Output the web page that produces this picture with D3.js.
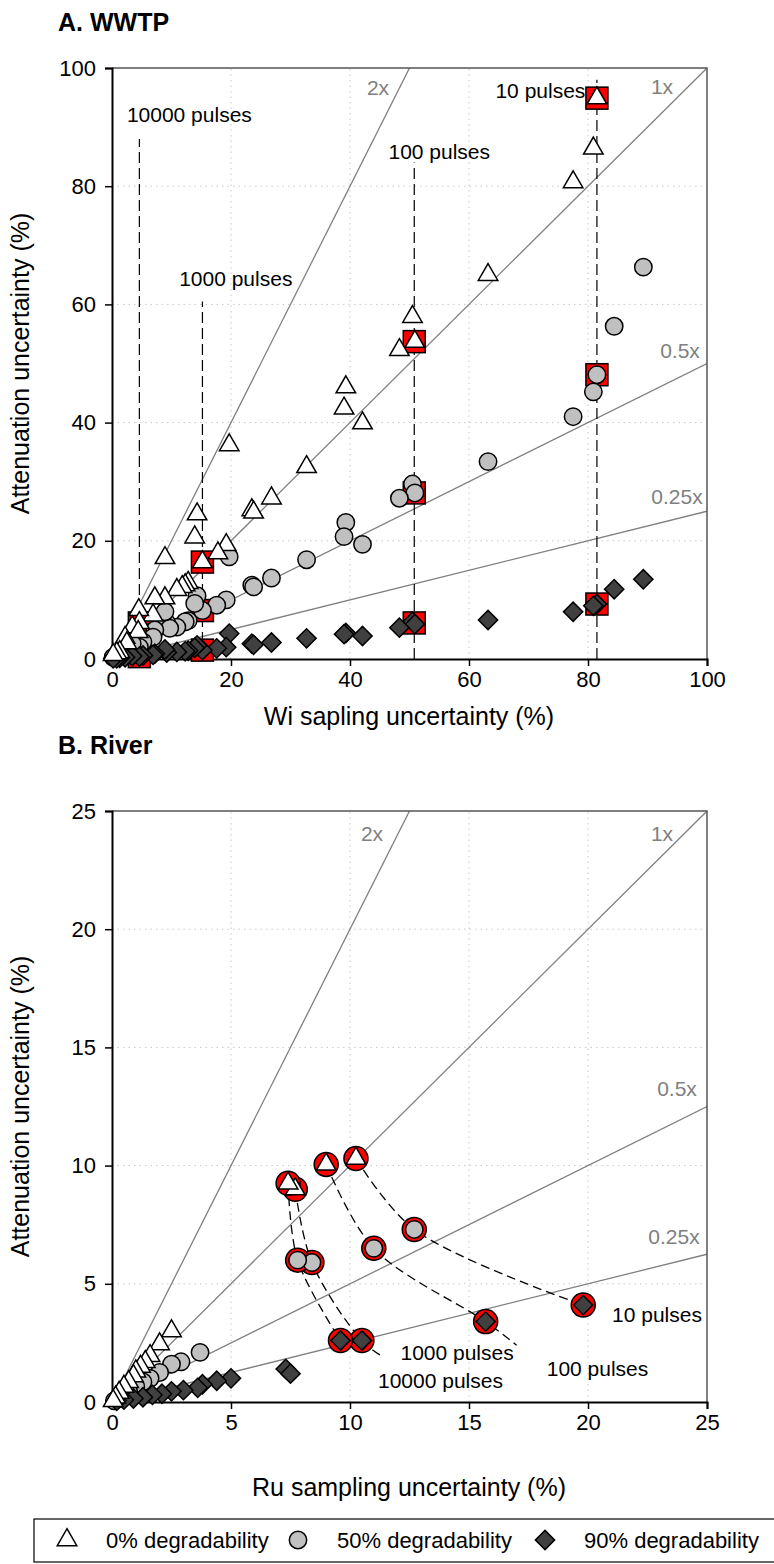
<!DOCTYPE html>
<html>
<head>
<meta charset="utf-8">
<script src="https://cdn.jsdelivr.net/npm/d3@7"></script>
<style>
  body { margin: 0; background: #fff; }
  svg { font-family: "Liberation Sans", Arial, sans-serif; }
</style>
</head>
<body>
<svg id="chart" width="774" height="1564"></svg>
<script>
// ---- data: [sampling uncertainty, attenuation uncertainty] ----
// panel A (WWTP)
const triA = [[81.5,94.9],[80.9,86.4],[77.5,80.7],[63.2,65.0],[50.5,57.9],[50.9,53.7],[48.3,52.3],[39.3,46.0],[39.0,42.4],[42.1,39.9],[32.7,32.5],[26.8,27.2],[23.5,25.2],[23.8,24.8],[19.7,36.2],[19.2,19.3],[17.8,17.9],[15.2,16.4],[14.3,24.5],[13.9,20.6],[12.8,12.9],[12.3,12.5],[11.8,12.2],[10.9,11.7],[8.9,17.1],[8.9,10.3],[7.2,10.3],[6.9,7.4],[4.5,8.3],[4.6,6.1],[3.4,5.4],[4.4,4.6],[2.2,3.6],[2.5,2.7],[1.3,1.2],[0.8,1.0],[0.2,0.7]];
const cirA = [[89.3,66.3],[84.4,56.3],[81.5,48.1],[80.9,45.2],[77.5,41.0],[63.2,33.4],[50.5,29.6],[50.9,28.1],[48.3,27.2],[39.3,23.1],[39.0,20.7],[42.1,19.4],[32.7,16.8],[26.8,13.7],[23.5,12.5],[23.8,12.2],[19.7,17.3],[19.2,10.0],[17.6,9.1],[15.2,8.2],[14.3,10.7],[13.9,9.4],[12.8,6.5],[12.3,6.3],[10.9,5.4],[9.2,6.1],[9.7,5.2],[8.9,8.0],[7.2,4.9],[6.9,3.7],[5.2,2.9],[4.6,2.0],[3.4,2.6],[2.2,1.7],[1.3,0.6],[0.8,0.5],[0.2,0.3]];
const diaA = [[89.3,13.5],[84.4,11.8],[81.5,9.3],[80.9,9.0],[77.5,8.0],[63.2,6.6],[50.5,6.3],[50.9,5.9],[48.3,5.3],[39.3,4.4],[39.0,4.2],[42.1,3.9],[32.7,3.5],[26.8,2.8],[23.5,2.6],[23.8,2.4],[19.7,4.3],[19.2,2.0],[17.6,1.8],[15.2,1.5],[14.3,2.3],[13.9,1.9],[12.8,1.4],[12.3,1.3],[10.9,1.2],[9.2,1.1],[8.9,1.6],[7.2,0.9],[6.9,0.7],[5.2,0.6],[4.6,0.4],[3.4,0.5],[2.2,0.3],[1.3,0.2],[0.8,0.1],[0.2,0.1]];
const redA = [[81.5,94.9],[81.5,48.1],[81.5,9.3],[50.8,53.7],[50.8,28.1],[50.8,6.1],[15.2,16.4],[15.2,8.2],[15.2,1.5],[4.6,6.1],[4.6,2.0],[4.6,0.4]];
const pulseX = [81.5, 50.8, 15.2, 4.6];
const pulseTop = [98, 84, 60.5, 88];
const pulseLabels = ["10 pulses", "100 pulses", "1000 pulses", "10000 pulses"];
const pulseLabelPos = [[72.0, 96.2], [55.0, 85.8], [20.8, 64.4], [13.0, 92.1]];

// panel B (River)
const triB = [[10.25,10.3],[9.0,10.05],[7.7,9.0],[7.4,9.25],[2.5,3.0],[2.0,2.45],[1.6,1.95],[1.4,1.7],[1.2,1.5],[1.0,1.3],[0.9,1.1],[0.7,0.85],[0.5,0.65],[0.3,0.4],[0.15,0.2],[0.05,0.05]];
const cirB = [[12.7,7.3],[11.0,6.5],[8.4,5.9],[7.8,6.0],[3.7,2.1],[2.9,1.7],[2.5,1.6],[2.0,1.25],[1.6,1.0],[1.3,0.85],[1.0,0.65],[0.7,0.45],[0.4,0.25],[0.1,0.05]];
const diaB = [[19.8,4.1],[15.7,3.4],[10.5,2.6],[9.6,2.6],[7.3,1.4],[7.5,1.2],[5.0,1.0],[4.4,0.9],[3.8,0.75],[3.6,0.6],[3.0,0.5],[2.5,0.45],[2.1,0.35],[1.7,0.3],[1.3,0.2],[0.9,0.15],[0.5,0.1],[0.2,0.05]];
const redB = [[10.25,10.3],[9.0,10.05],[7.7,9.0],[7.4,9.25],[12.7,7.3],[11.0,6.5],[8.4,5.9],[7.8,6.0],[19.8,4.1],[15.7,3.4],[10.5,2.6],[9.6,2.6]];
const curvesB = [
  [[10.25,10.3],[12.7,7.3],[19.8,4.1]],
  [[9.0,10.05],[11.0,6.5],[15.7,3.4],[17.0,2.4]],
  [[7.7,9.0],[8.4,5.9],[10.5,2.6],[11.4,1.9]],
  [[7.4,9.25],[7.8,6.0],[9.6,2.6]]
];
const curveLabels = ["10 pulses", "100 pulses", "1000 pulses", "10000 pulses"];
const curveLabelPos = [[22.9, 3.7], [20.4, 1.4], [14.5, 2.1], [13.8, 0.9]];

const ticksA = [0, 20, 40, 60, 80, 100];
const ticksB = [0, 5, 10, 15, 20, 25];
const ratios = [2, 1, 0.5, 0.25];
const ratioLabels = ["2x", "1x", "0.5x", "0.25x"];
const legendItems = ["0% degradability", "50% degradability", "90% degradability"];

const svg = d3.select("#chart");
const tickFont = 22, titleFont = 25, noteFont = 21;

function panel(opt) {
  const x = d3.scaleLinear().domain([0, opt.max]).range([112, 707]);
  const y = d3.scaleLinear().domain([0, opt.max]).range([opt.bottom, opt.top]);
  const g = svg.append("g");

  // grid
  opt.ticks.slice(1, -1).forEach(t => {
    g.append("line").attr("x1", x(t)).attr("x2", x(t)).attr("y1", y(0)).attr("y2", y(opt.max))
      .attr("stroke", "#c8c8c8").attr("stroke-dasharray", "1.5,4");
    g.append("line").attr("x1", x(0)).attr("x2", x(opt.max)).attr("y1", y(t)).attr("y2", y(t))
      .attr("stroke", "#c8c8c8").attr("stroke-dasharray", "1.5,4");
  });

  // ratio lines
  const clip = "clip" + opt.id;
  svg.append("clipPath").attr("id", clip).append("rect")
    .attr("x", x(0)).attr("y", y(opt.max)).attr("width", x(opt.max) - x(0)).attr("height", y(0) - y(opt.max));
  const lines = g.append("g").attr("clip-path", `url(#${clip})`);
  ratios.forEach(r => {
    lines.append("line").attr("x1", x(0)).attr("y1", y(0))
      .attr("x2", x(opt.max)).attr("y2", y(opt.max * r))
      .attr("stroke", "#808080").attr("stroke-width", 1.3);
  });
  opt.ratioPos.forEach((p, i) => {
    g.append("text").attr("x", p[0]).attr("y", p[1]).attr("dy", "0.35em")
      .attr("text-anchor", "middle").attr("fill", "#808080").attr("font-size", noteFont)
      .text(ratioLabels[i]);
  });

  // frame
  g.append("path")
    .attr("d", `M${x(0)},${y(opt.max)}H${x(opt.max)}V${y(0)}`)
    .attr("fill", "none").attr("stroke", "#555").attr("stroke-width", 1.5);

  // axes
  const ax = g.append("g").attr("transform", `translate(0,${y(0)})`)
    .call(d3.axisBottom(x).tickValues(opt.ticks).tickSize(7).tickPadding(5));
  const ay = g.append("g").attr("transform", `translate(${x(0)},0)`)
    .call(d3.axisLeft(y).tickValues(opt.ticks).tickSize(7).tickPadding(9));
  [ax, ay].forEach(a => {
    a.select(".domain").attr("stroke-width", 2);
    a.selectAll(".tick line").attr("stroke-width", 1.5);
    a.selectAll("text").attr("font-size", tickFont).attr("font-family", "Liberation Sans, Arial");
  });

  g.append("text").attr("x", 58).attr("y", opt.titleY)
    .attr("font-weight", "bold").attr("font-size", titleFont).text(opt.title);
  g.append("text").attr("x", 409).attr("y", opt.xTitleY).attr("text-anchor", "middle")
    .attr("font-size", titleFont).text(opt.xTitle);
  g.append("text").attr("transform", `translate(29,${(y(0) + y(opt.max)) / 2}) rotate(-90)`)
    .attr("text-anchor", "middle").attr("font-size", titleFont).text("Attenuation uncertainty (%)");

  return { x, y, g };
}

function markers(g, x, y, data, kind) {
  const s = g.append("g");
  data.forEach(d => {
    const px = x(d[0]), py = y(d[1]);
    if (kind === "tri") {
      s.append("path").attr("d", d3.symbol(d3.symbolTriangle, 165)())
        .attr("transform", `translate(${px},${py})`)
        .attr("fill", "#fff").attr("stroke", "#000").attr("stroke-width", 1.5);
    } else if (kind === "cir") {
      s.append("circle").attr("cx", px).attr("cy", py).attr("r", 8.7)
        .attr("fill", "#c0c0c0").attr("stroke", "#000").attr("stroke-width", 1.5);
    } else if (kind === "dia") {
      s.append("rect").attr("x", -6.8).attr("y", -6.8).attr("width", 13.6).attr("height", 13.6)
        .attr("transform", `translate(${px},${py}) rotate(45)`)
        .attr("fill", "#404040").attr("stroke", "#000").attr("stroke-width", 1.5);
    } else if (kind === "redsq") {
      s.append("rect").attr("x", px - 11).attr("y", py - 11).attr("width", 22).attr("height", 22)
        .attr("fill", "#ff0000").attr("stroke", "#000").attr("stroke-width", 1.5);
    } else if (kind === "redci") {
      s.append("circle").attr("cx", px).attr("cy", py).attr("r", 12)
        .attr("fill", "#ff0000").attr("stroke", "#000").attr("stroke-width", 1.5);
    }
  });
}

// ---- panel A ----
const A = panel({ id: "A", max: 100, top: 68, bottom: 659, ticks: ticksA, title: "A. WWTP",
  titleY: 31, xTitle: "Wi sapling uncertainty (%)", xTitleY: 725,
  ratioPos: [[378, 88], [662, 87], [680, 351], [677, 497]] });

pulseX.forEach((px, i) => {
  A.g.append("line").attr("x1", A.x(px)).attr("x2", A.x(px)).attr("y1", A.y(0)).attr("y2", A.y(pulseTop[i]))
    .attr("stroke", "#000").attr("stroke-width", 1.2).attr("stroke-dasharray", "11,5");
  A.g.append("text").attr("x", A.x(pulseLabelPos[i][0])).attr("y", A.y(pulseLabelPos[i][1]))
    .attr("dy", "0.35em").attr("text-anchor", "middle").attr("font-size", noteFont).text(pulseLabels[i]);
});
markers(A.g, A.x, A.y, redA, "redsq");
markers(A.g, A.x, A.y, cirA, "cir");
markers(A.g, A.x, A.y, diaA, "dia");
markers(A.g, A.x, A.y, triA, "tri");

// ---- panel B ----
const B = panel({ id: "B", max: 25, top: 811, bottom: 1402, ticks: ticksB, title: "B. River",
  titleY: 754, xTitle: "Ru sampling uncertainty (%)", xTitleY: 1496,
  ratioPos: [[372, 834], [662, 834], [677, 1089], [674, 1237]] });

const lineB = d3.line().x(d => B.x(d[0])).y(d => B.y(d[1])).curve(d3.curveCatmullRom);
curvesB.forEach(c => {
  B.g.append("path").attr("d", lineB(c)).attr("fill", "none")
    .attr("stroke", "#000").attr("stroke-width", 1.3).attr("stroke-dasharray", "9,5");
});
markers(B.g, B.x, B.y, redB, "redci");
markers(B.g, B.x, B.y, cirB, "cir");
markers(B.g, B.x, B.y, diaB, "dia");
markers(B.g, B.x, B.y, triB, "tri");
curveLabels.forEach((t, i) => {
  B.g.append("text").attr("x", B.x(curveLabelPos[i][0])).attr("y", B.y(curveLabelPos[i][1]))
    .attr("dy", "0.35em").attr("text-anchor", "middle").attr("font-size", noteFont).text(t);
});

// ---- legend ----
const lg = svg.append("g");
lg.append("rect").attr("x", 34).attr("y", 1519).attr("width", 780).attr("height", 43)
  .attr("fill", "#fff").attr("stroke", "#000").attr("stroke-width", 1.2);
const legX = [67, 298, 545];
legX.forEach((lx, i) => {
  const kind = ["tri", "cir", "dia"][i];
  const fx = d3.scaleLinear().domain([0, 1]).range([lx, lx + 1]);
  const fy = d3.scaleLinear().domain([0, 1]).range([1540, 1541]);
  markers(lg, fx, fy, [[0, 0]], kind);
  lg.append("text").attr("x", lx + 39).attr("y", 1540).attr("dy", "0.35em")
    .attr("font-size", 22).text(legendItems[i]);
});
</script>
</body>
</html>
